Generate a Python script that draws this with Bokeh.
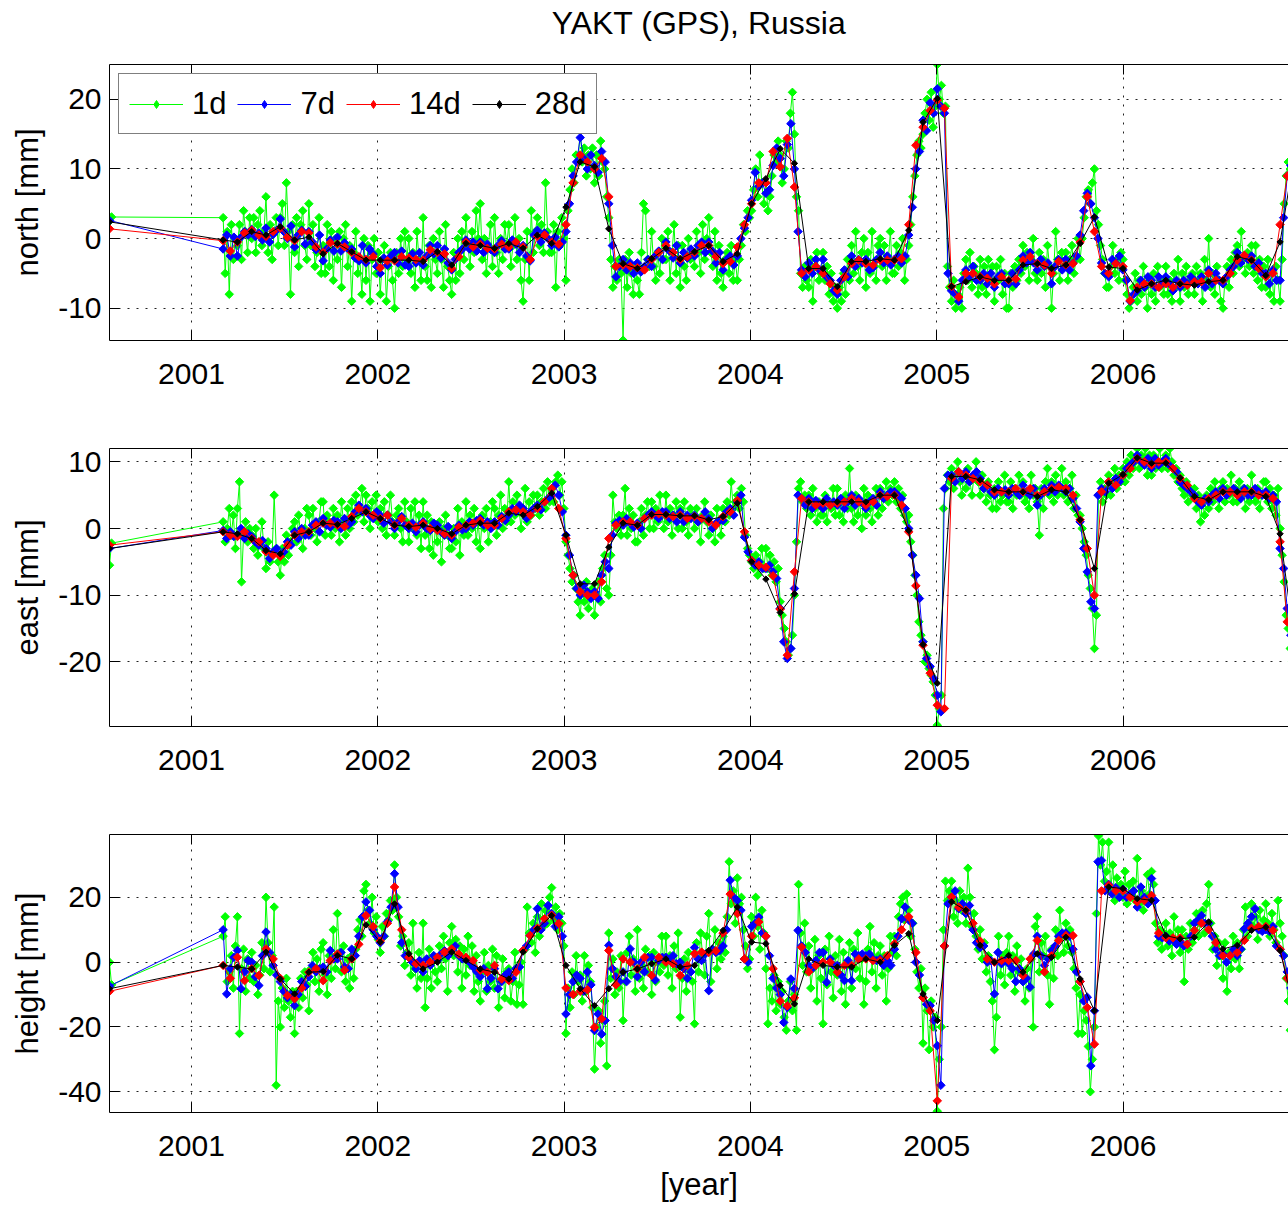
import numpy as np
from bokeh.plotting import figure
from bokeh.models import Range1d, LinearAxis, FixedTicker, Legend, LegendItem
from bokeh.layouts import column
from bokeh.embed import file_html
from bokeh.resources import INLINE

FONT = "Liberation Sans"
FS_TICK = "30px"
FS_LABEL = "31px"
FS_TITLE = "32px"
FS_LEGEND = "31px"
YEARS = [2001, 2002, 2003, 2004, 2005, 2006]
X_START, X_END = 2000.56, 2006.888
T_FIRST = 2000.56          # isolated first epoch
T0 = 2001.17               # start of the continuous record
DPY = 365.25
SPACING = {"1d": 4, "7d": 7, "14d": 14, "28d": 28}   # days between samples inside one 28-day block

# ---------------------------------------------------------------- NORTH
north_start = {"1d": [2.5, 3.1], "7d": [2.6], "14d": [1.4], "28d": [2.4]}
north_28d = [-0.2,-0.5,1.0,0.5,1.7,-0.2,0.2,-2.2,-0.7,-1.9,
 -3.1,-3.1,-3.1,-3.1,-3.3,-1.9,-3.8,-0.7,-1.0,-1.4,
 -0.7,-1.4,0.5,-0.7,4.5,11.0,10.3,1.4,-3.6,-4.3,
 -2.9,-1.4,-2.9,-1.9,-1.0,-3.3,-2.2,5.0,8.6,12.9,
 10.8,-4.3,-4.3,-6.9,-3.3,-3.3,-2.9,-3.1,1.2,16.7,
 20.1,-6.9,-6.2,-5.5,-6.0,-6.0,-3.8,-3.6,-4.3,-3.8,
 -0.7,3.1,-4.1,-4.3,-7.4,-6.5,-6.0,-6.5,-6.7,-6.2,
 -6.0,-2.6,-3.1,-5.3,-0.5,12.0]
north_14d = [[-0.3,-1.8],[-0.5,0.8],[1.2,0.5],[0.3,1.0],[1.5,0.2],[-0.3,1.0],[0.8,-1.2],[-2.0,-0.6],[-0.8,-1.2],[-2.0,-2.6],
 [-3.0,-2.6],[-4.2,-3.2],[-3.2,-2.6],[-2.8,-3.0],[-3.1,-1.6],[-2.0,-2.2],[-4.3,-2.6],[-0.5,-1.2],[-0.8,-1.4],[-1.5,-0.8],
 [-1.2,-0.5],[-1.2,-3.0],[0.3,0.5],[-0.5,-0.8],[2.0,8.0],[12.0,11.0],[10.0,11.5],[6.0,-4.0],[-3.8,-4.0],[-4.2,-4.5],
 [-3.0,-2.0],[-1.0,-2.0],[-3.0,-2.6],[-2.0,-1.0],[-1.0,-2.6],[-3.6,-3.3],[-1.2,2.0],[5.0,8.0],[8.0,12.5],[10.3,14.4],
 [7.4,-5.0],[-4.5,-4.0],[-5.0,-6.5],[-7.4,-5.5],[-3.6,-3.1],[-3.6,-3.8],[-3.1,-3.1],[-3.1,-2.9],[2.0,13.4],[16.0,18.4],
 [19.9,18.7],[-6.9,-8.4],[-5.0,-5.0],[-5.5,-5.7],[-6.5,-5.5],[-6.0,-5.8],[-3.1,-2.6],[-3.6,-3.8],[-5.0,-3.3],[-3.8,-3.6],
 [-0.5,6.0],[1.0,-4.0],[-5.0,-3.6],[-4.0,-8.9],[-7.0,-6.5],[-6.5,-7.0],[-6.5,-7.0],[-6.5,-6.7],[-6.2,-6.2],[-5.0,-6.0],
 [-6.0,-5.0],[-3.1,-2.4],[-3.1,-4.3],[-5.5,-5.0],[2.0,9.0],[13.0,14.0]]
north_7d = [[-1.5,0.5,-2.5,0.2],[-2.5,0.2,1.0,0.5],[1.3,0.3,0.8,-0.2],[1.5,-0.5,0.6,1.2],[2.8,1.0,0.0,1.8],
 [-1.2,0.5,1.2,-0.8],[1.0,-0.5,-1.6,0.5],[-3.2,-1.5,-0.2,-1.8],[0.2,-1.8,-0.6,-1.5],[-1.5,-2.8,-3.2,-1.0],
 [-3.5,-1.5,-2.2,-4.0],[-5.0,-2.8,-3.8,-2.5],[-2.0,-3.5,-1.8,-3.8],[-4.0,-2.2,-3.5,-2.0],[-3.8,-2.5,-1.0,-2.2],
 [-1.0,-2.8,-1.5,-3.5],[-4.5,-3.0,-2.0,-1.5],[-0.2,-1.5,-0.5,-1.8],[-0.5,-2.0,-0.8,-1.6],[-2.0,-1.0,-0.3,-1.5],
 [-1.5,-0.2,-0.8,-2.0],[-1.0,-2.5,-3.2,0.5],[1.2,-0.5,0.8,0.0],[-1.0,0.2,-1.2,-0.5],[1.0,5.0,9.0,11.0],
 [14.5,11.5,10.0,12.0],[10.5,9.5,12.5,11.0],[5.0,-1.0,-5.5,-4.0],[-3.0,-4.5,-3.5,-5.0],[-3.5,-4.8,-4.0,-3.0],
 [-4.0,-2.5,-1.8,-3.0],[-0.5,-1.8,-2.8,-1.0],[-3.5,-2.0,-2.8,-1.5],[-2.5,-1.0,-0.5,-2.0],[-0.5,-1.8,-3.5,-2.0],
 [-4.5,-3.0,-2.5,-3.8],[-2.5,0.0,1.5,3.0],[5.5,9.5,7.5,8.0],[6.5,7.0,10.5,13.0],[11.5,9.0,13.5,16.5],
 [10.0,1.0,-4.5,-5.5],[-3.5,-5.0,-3.0,-4.5],[-3.0,-5.5,-6.0,-7.5],[-8.0,-6.0,-4.5,-5.5],[-2.5,-4.0,-3.0,-3.5],
 [-3.0,-4.5,-4.2,-3.0],[-2.0,-3.5,-2.5,-3.8],[-3.0,-2.5,-3.5,-2.5],[0.5,4.5,10.0,12.5],[17.0,15.5,19.5,18.0],
 [21.5,19.0,18.0,-5.0],[-7.5,-8.0,-9.0,-6.0],[-4.5,-5.5,-4.0,-6.0],[-6.0,-5.0,-6.5,-5.0],[-7.0,-5.5,-5.0,-6.5],
 [-6.5,-5.0,-6.5,-4.5],[-2.5,-3.5,-2.0,-3.5],[-4.5,-3.0,-4.0,-3.5],[-6.5,-4.0,-3.0,-4.5],[-3.0,-4.5,-3.5,-2.5],
 [0.5,4.0,6.5,5.0],[3.0,0.0,-3.5,-5.0],[-5.5,-3.0,-3.5,-2.5],[-4.5,-6.0,-9.0,-8.0],[-7.5,-6.0,-7.0,-5.5],
 [-6.0,-7.0,-5.5,-6.5],[-5.5,-6.5,-7.5,-6.0],[-7.0,-6.0,-6.5,-5.5],[-6.0,-6.5,-5.5,-7.0],[-4.5,-6.5,-5.0,-6.0],
 [-6.5,-5.5,-4.5,-4.0],[-2.0,-3.5,-2.5,-3.0],[-2.5,-4.0,-3.5,-5.0],[-5.0,-6.5,-4.5,-6.0],[-6.0,3.0,9.0,10.5],
 [12.0,13.0,12.5,14.0]]
north_1d = [[3,-5,1,-8,2,-3,0],[-1,2,-3,4,1,-2,3],[0,3,-2,2,4,-1,1],[6,-2,2,-3,1,3,-1],[3,5,-1,8,1,-8,2],
 [-2,3,-4,2,4,-1,-3],[5,-1,2,-4,-2,3,-5],[-1,-5,2,-4,1,-6,0],[-3,1,-7,0,2,-4,-1],[-9,-2,1,-5,-3,-8,0],
 [-6,-1,-9,-3,0,-5,-2],[-8,-3,-1,-9,-4,-2,-6],[-10,-2,-5,0,-4,1,-3],[0,-5,-2,-7,1,-3,-6],[3,-4,-6,-1,-7,0,-3],
 [-5,1,-3,-7,2,-4,-6],[-8,-2,-6,0,-5,1,-3],[3,-1,-4,1,-2,4,0],[5,-3,0,-5,-1,2,-4],[3,-2,-5,0,-3,2,-1],
 [2,-4,-1,3,-3,0,-6],[-9,-3,1,-6,4,-2,1],[3,-1,2,-2,8,1,-2],[-2,2,-7,1,-1,3,0],[-6,4,7,10,8,12,11],
 [16,11,13,9,12,10,13],[8,12,9,14,11,10,6],[3,-3,-7,-4,-6,-3,-5],[-14.6,-3,-7,-2,-5,-8,-4],[-6,-8,-2,5,4,-3,-4],
 [1,-4,-6,-2,-5,0,-3],[-3,1,-6,-2,2,-5,-1],[-7,-1,-4,-6,0,-3,-2],[-4,1,-2,-5,2,-3,0],[3,-2,-4,1,-6,-1,-5],
 [-7,-3,-2,-5,-1,-6,-3],[-6,-3,-1,2,1,4,3],[4,7,10,6,12,8,5],[8,4,6,9,12,11,14],[12,8,10,14,13,18,21],
 [15,6,4,-5,-7,-4,-6],[-7,-3,-9,-4,-2,-6,-5],[-2,-6,-4,-8,-5,-9,-7],[-10,-7,-9,-5,-8,-3,-6],[-1,-5,1,-4,-6,-2,0],
 [-7,-2,-5,1,-4,-6,-1],[0,-4,-1,-6,-3,1,-5],[-5,-1,-4,-2,0,-6,-3],[-1,2,6,9,12,14,13],[15,18,20,17,21,16,19],
 [25,20,22,18,19,-4,-7],[-9,-6,-10,-8,-7,-10,-5],[-3,-6,-2,-7,-4,-5,-8],[-3,-7,-4,-8,-3,-6,-4],[-9,-4,-6,-3,-8,-5,-10],
 [-10,-5,-7,-4,-6,-3,-5],[-1,-4,-2,-6,-3,0,-5],[-6,-2,-5,-3,-7,-1,-4],[-10,-5,1,-3,-6,-2,-4],[-2,-6,-3,-1,-5,-3,0],
 [-3,0,3,6,7,5,8],[10,4,2,-1,-3,-5,-7],[-7,-4,-1,-5,-3,-6,-2],[-3,-6,-8,-10,-9,-7,-5],[-9,-6,-8,-4,-7,-10,-6],
 [-8,-5,-9,-4,-7,-6,-8],[-4,-8,-6,-9,-5,-7,-3],[-9,-5,-7,-4,-8,-6,-5],[-8,-4,-6,-5,-9,-3,-6],[0,-7,-5,-8,-4,-6,-9],
 [-10,-6,-4,-7,-3,-5,-2],[-1,-4,1,-3,-5,-2,-4],[-1,-5,-1,-6,-3,-7,-4],[-7,-3,-8,-5,-9,-4,-6],[-9,-3,5,9,11,10,12],
 [13,11,14,12,15,13,12]]

# ---------------------------------------------------------------- EAST
east_start = {"1d": [-5.5, -2.2], "7d": [-3.0], "14d": [-2.5], "28d": [-3.0]}
east_28d = [-0.5,-0.8,-1.5,-3.3,-3.8,-1.0,-0.5,0.8,0.6,1.5,
 2.5,1.5,0.5,0.3,0.5,0.0,-0.8,0.5,0.8,0.8,
 2.3,2.0,3.3,5.3,-1.0,-8.3,-8.3,-2.8,0.8,0.5,
 2.1,2.1,1.9,1.9,1.3,1.8,3.8,-5.0,-7.6,-12.6,
 -9.8,4.0,4.0,4.0,4.0,4.0,5.0,5.0,-0.3,-17.4,
 -23.2,7.8,7.8,7.3,5.8,5.5,5.5,4.8,5.8,5.5,
 1.3,-6.0,6.8,8.1,10.6,9.8,9.8,7.6,4.8,4.3,
 5.5,5.5,5.5,4.8,-0.8,-17.0]
east_14d = [[-0.5,-1.0],[-1.2,-0.5],[-1.5,-2.0],[-3.5,-4.0],[-4.2,-2.5],[-1.0,-0.5],[-0.5,0.5],[0.8,0.8],[0.5,0.3],[1.8,3.0],
 [2.5,2.0],[1.5,2.0],[0.5,1.5],[0.5,0.2],[0.8,0.0],[-0.3,-0.8],[-1.0,0.2],[0.5,0.8],[1.2,0.5],[0.5,1.5],
 [2.5,2.8],[2.5,2.0],[3.0,4.0],[6.0,3.0],[-1.5,-7.0],[-9.5,-10.0],[-10.0,-8.0],[-1.5,0.5],[1.0,1.0],[0.5,1.5],
 [2.0,2.2],[2.0,1.8],[2.0,1.5],[1.8,1.5],[1.0,0.5],[1.8,2.5],[4.2,-0.5],[-4.8,-5.5],[-5.8,-7.1],[-12.1,-19.0],
 [-6.5,4.5],[4.0,3.5],[3.8,3.5],[3.8,4.0],[4.5,4.0],[3.5,4.0],[5.0,4.8],[5.0,3.5],[-0.5,-8.6],[-17.5,-21.7],
 [-26.5,-27.0],[7.5,8.5],[8.0,7.5],[7.0,6.5],[5.5,5.5],[5.5,6.0],[5.5,6.0],[5.0,5.5],[6.0,6.2],[6.0,5.0],
 [1.3,-3.0],[-10.0,5.5],[7.0,6.5],[8.0,9.0],[10.5,10.0],[9.5,10.0],[10.0,9.0],[7.5,6.5],[4.5,4.0],[4.5,5.0],
 [5.5,5.5],[5.0,5.5],[5.5,5.0],[5.0,4.5],[-2.0,-14.0],[-18.0,-20.0]]
east_7d = [[-0.3,-1.5,-0.5,-1.2],[-1.0,0.0,-1.5,-0.8],[-1.2,-2.0,-2.5,-1.8],[-3.0,-4.5,-3.5,-3.0],[-4.0,-3.5,-2.0,-2.5],
 [-0.5,-1.5,0.0,-1.0],[-1.0,0.5,1.0,-0.5],[1.5,0.5,0.2,1.2],[1.0,0.0,1.5,0.5],[1.0,2.5,3.5,2.5],
 [3.0,2.0,1.5,2.5],[2.0,0.8,2.0,1.0],[0.0,1.0,1.8,0.5],[0.0,0.8,-0.5,0.5],[1.0,0.0,-0.3,0.8],
 [0.5,-0.5,-1.0,0.3],[-1.5,-0.5,0.5,-0.2],[0.0,1.0,0.5,1.2],[1.5,0.5,1.0,0.0],[1.0,0.5,1.8,1.2],
 [2.0,3.0,2.5,3.5],[3.0,1.5,2.5,3.0],[3.5,2.8,4.0,4.5],[5.0,6.5,5.0,2.5],[-1.0,-4.0,-7.0,-9.0],
 [-10.0,-8.5,-9.5,-10.5],[-9.5,-10.5,-7.0,-5.0],[-6.0,-1.0,0.8,1.2],[0.5,1.5,0.8,0.2],[0.8,0.0,1.5,2.0],
 [2.5,2.0,1.5,2.5],[2.5,1.5,2.0,1.0],[2.5,1.0,2.0,1.5],[2.0,1.0,1.5,2.5],[1.5,0.0,0.8,1.2],
 [1.2,2.5,3.0,2.0],[4.0,5.0,-1.3,-3.5],[-4.8,-5.5,-5.0,-6.0],[-6.0,-5.5,-6.5,-7.5],[-12.0,-17.0,-19.5,-18.0],
 [-9.0,5.0,4.5,3.5],[4.5,3.0,4.2,3.5],[3.0,4.5,3.5,4.0],[3.5,4.5,3.0,4.0],[5.0,3.5,4.5,3.8],
 [3.0,4.0,4.5,3.5],[5.5,4.5,5.0,5.5],[5.5,5.0,4.5,3.0],[0.0,-4.0,-7.0,-10.5],[-17.0,-19.5,-20.7,-22.5],
 [-25.0,-27.5,6.0,8.0],[8.0,7.0,8.5,7.5],[8.5,7.0,8.0,8.5],[7.5,6.0,6.5,5.5],[5.0,6.0,5.5,5.8],
 [5.0,6.0,5.5,5.0],[6.5,5.5,5.0,6.0],[3.5,5.0,6.0,5.5],[6.5,5.5,6.5,6.0],[5.5,6.0,4.5,3.0],
 [1.0,-3.0,-6.5,-11.0],[-12.0,5.0,6.0,5.5],[7.0,6.0,7.5,7.0],[8.0,9.0,9.5,10.0],[11.0,10.0,9.5,10.5],
 [9.0,10.5,9.5,10.0],[10.5,9.5,9.0,8.5],[7.0,6.5,6.0,5.5],[5.0,4.0,3.5,4.5],[4.0,5.0,5.5,4.5],
 [6.0,5.0,5.5,6.0],[5.5,4.5,6.0,5.0],[5.0,6.0,5.5,5.0],[5.5,4.5,5.0,4.0],[-3.0,-6.0,-12.0,-16.0],
 [-18.0,-20.0,-21.0,-20.0]]
east_1d = [[1,-2,0,3,-1,2,-3],[3,7,-8,-1,1,-2,0],[-1,-3,0,-4,-2,1,-3],[-6,-2,-5,-4,5,-3,-5],[-7,-3,-5,-1,-4,-2,0],
 [1,-2,2,-1,-3,0,3],[2,-1,3,0,-2,1,4],[4,-1,2,1,-1,3,0],[2,-2,4,1,-1,3,0],[4,1,5,2,3,6,1],
 [5,3,0,4,2,5,1],[3,0,4,-1,2,5,1],[-1,2,3,0,-2,4,1],[-2,3,0,4,-1,2,-3],[4,-1,2,-3,1,-4,0],
 [-2,1,-5,0,2,-1,-3],[-3,0,-2,3,-4,1,-1],[4,-1,2,0,3,-2,1],[-3,2,0,3,-2,1,4],[3,-1,2,5,0,3,1],
 [7,1,4,2,5,3,0],[3,6,1,4,2,5,3],[5,2,4,6,3,7,4],[6,4,7,8,5,7,3],[-2,-4,-6,-8,-7,-9,-11],
 [-13,-9,-11,-8,-12,-10,-9],[-13,-10,-8,-11,-6,-4,-9],[-10,-4,5,1,0,2,-1],[2,6,-1,3,0,2,-2],[-2,1,3,-1,2,4,0],
 [4,0,3,1,5,2,0],[5,1,3,-1,2,4,0],[3,0,4,1,-1,3,2],[0,3,1,-2,2,4,1],[-1,2,0,-2,3,1,-1],
 [3,1,4,2,7,3,4],[5,3,6,4,-1,-3,-4],[-5,-6,-4,-7,-5,-3,-6],[-3,-6,-4,-7,-5,-8,-6],[-11,-13,-15,-17,-19,-18,-16],
 [-10,-2,6,7,4,5,3],[5,2,6,3,1,4,2],[2,5,1,4,3,6,2],[6,2,4,1,5,3,9],[3,1,5,2,4,0,6],
 [2,5,3,1,4,6,2],[6,3,5,7,4,6,5],[7,4,6,3,5,2,1],[2,-2,-4,-7,-10,-14,-16],[-17,-20,-19,-21,-22,-23,-25],
 [-29.5,-27,-25,3,6,8,7],[9,6,8,10,7,5,8],[6,9,7,5,8,10,7],[5,8,6,4,7,5,3],[6,3,7,4,5,8,4],
 [4,7,3,6,5,8,5],[7,4,5,3,8,5,6],[4,-1,6,3,7,9,5],[7,4,8,5,6,9,5],[7,4,6,8,3,5,2],
 [2,0,-2,-4,-7,-9,-12],[-18,-13,5,7,4,6,5],[8,5,7,9,6,8,7],[9,7,10,8,11,9,10],[12,9,11,10,12,8,11],
 [8,11,9,10,12,9,10],[11,9,12,10,8,9,7],[8,6,5,7,4,6,5],[6,3,5,1,4,2,5],[3,6,4,7,5,3,6],
 [7,4,6,5,8,4,6],[4,7,5,6,3,6,4],[8,5,4,6,3,5,7],[7,4,6,3,5,2,6],[0,-4,-8,-13,-15,-18,-20],
 [-20,-22,-21,-23,-22,-20,-21]]

# ---------------------------------------------------------------- HEIGHT
height_start = {"1d": [0.0, -7.0], "7d": [-7.4], "14d": [-9.0], "28d": [-8.2]}
height_28d = [-1.0,-1.5,-2.1,3.1,-5.2,-9.8,-3.1,-2.9,2.1,1.0,
 11.5,6.2,18.0,2.6,-2.1,0.0,3.1,0.5,-2.1,-3.1,
 -5.2,3.1,10.3,14.4,-1.0,-8.2,-13.4,-8.2,-3.1,-2.1,
 -0.5,1.0,-1.5,-1.0,3.6,9.8,17.0,6.2,5.7,-7.2,
 -12.9,1.0,-1.0,-1.5,-1.5,1.0,0.0,5.2,8.8,-9.8,
 -18.0,18.6,16.0,5.2,0.0,2.1,-3.1,2.6,1.5,7.7,
 -5.2,-15.0,23.2,22.7,19.6,19.1,8.2,7.2,7.7,12.4,
 4.1,5.2,9.8,10.8,3.6,-15.0]
height_14d = [[-1.0,-5.0],[1.5,-5.7],[-2.0,-4.1],[4.1,1.0],[-5.0,-10.3],[-11.3,-8.0],[-3.1,-2.0],[-5.7,0.5],[2.5,-2.5],[1.0,5.5],
 [14.4,11.0],[6.5,12.0],[23.2,10.0],[1.5,-0.5],[-1.0,0.0],[1.5,3.1],[4.1,2.5],[1.5,0.5],[-2.5,-3.1],[-1.0,-5.2],
 [-5.7,-3.1],[3.6,8.2],[10.5,13.4],[14.5,11.9],[-8.0,-10.0],[-9.0,-8.5],[-20.1,-17.5],[3.6,-7.0],[1.0,0.0],[-2.1,1.5],
 [-4.1,1.5],[0.0,-0.5],[-4.1,-1.0],[2.6,3.1],[3.0,3.5],[9.0,21.0],[15.0,1.0],[8.0,12.4],[8.0,-2.0],[-12.0,-13.5],
 [-11.0,4.6],[-3.0,-1.0],[0.0,0.0],[-3.1,-1.0],[-1.0,1.0],[1.0,0.5],[0.5,2.0],[5.7,10.0],[14.0,3.0],[-11.0,-15.0],
 [-42.8,5.0],[20.1,17.0],[16.0,12.0],[6.5,1.0],[0.0,0.5],[0.5,0.5],[-4.1,1.0],[6.7,-3.0],[2.0,6.7],[8.2,8.2],
 [-6.0,-14.0],[-25.3,22.0],[23.7,22.0],[22.0,20.0],[18.6,19.0],[20.6,9.0],[7.5,7.5],[7.5,5.5],[9.8,12.0],[10.0,6.0],
 [2.0,2.0],[3.0,6.7],[10.5,11.0],[11.0,9.8],[4.0,-5.0],[-15.0,-18.0]]
height_7d = [[10.0,-9.8,-2.0,1.5],[3.6,-8.2,-3.0,0.5],[0.0,-4.5,-7.2,2.0],[9.3,3.0,-1.0,-4.0],[-6.0,-9.0,-11.0,-10.0],
 [-13.4,-10.0,-6.0,-7.5],[-4.5,-1.0,-3.0,-2.0],[-1.5,-3.0,3.6,1.0],[1.0,3.0,-1.5,-2.0],[4.0,2.0,8.0,14.0],
 [18.6,16.0,10.0,8.0],[6.0,8.0,12.5,17.0],[27.3,17.0,6.0,2.0],[1.5,0.0,-2.0,0.5],[-3.0,1.0,-1.0,2.0],
 [0.5,2.5,3.5,2.0],[3.6,5.0,2.0,1.0],[1.0,0.0,-1.5,-3.0],[-4.5,-2.0,-8.2,-5.0],[-2.0,-8.2,-6.0,-4.0],
 [-3.0,-5.0,-2.0,-1.5],[3.6,5.0,8.2,10.0],[16.5,10.0,12.0,17.5],[15.0,11.0,14.0,8.0],[-16.0,-10.0,-6.0,-4.0],
 [-5.0,-9.0,-3.0,-7.0],[-21.1,-16.0,-22.2,-18.0],[5.2,-2.0,-4.5,-6.0],[-3.0,-6.0,4.1,0.0],[-4.5,0.0,-3.0,1.5],
 [1.5,-5.5,0.5,1.5],[1.5,0.5,2.0,-0.5],[0.0,-2.0,-5.0,-3.0],[4.5,1.0,0.5,2.5],[-8.8,4.0,3.0,3.5],
 [5.0,10.0,25.3,20.0],[19.0,16.0,1.0,0.0],[11.0,12.0,13.9,9.0],[8.0,2.0,-5.0,-8.0],[-10.0,-18.6,-14.0,-5.2],
 [-8.2,9.8,5.0,3.0],[-1.0,-2.0,0.5,3.0],[3.0,-6.2,1.0,-1.0],[-1.0,-4.0,-5.7,0.5],[-5.7,2.5,2.0,2.5],
 [2.0,2.5,1.0,0.5],[1.0,-1.0,0.5,-1.0],[4.0,8.0,13.4,17.0],[13.0,12.0,0.0,-4.0],[-10.8,-13.0,-13.4,-18.0],
 [-25.8,-38.0,5.0,18.0],[20.0,22.0,16.5,18.0],[15.0,17.5,10.0,6.0],[4.5,5.0,0.0,0.5],[-9.8,3.0,-0.5,0.5],
 [-0.5,-2.0,-6.0,-2.0],[-6.0,-5.0,-7.7,2.5],[8.0,2.0,-1.0,1.0],[3.5,5.0,8.0,9.0],[9.0,8.0,4.0,-3.0],
 [-6.0,-12.0,-10.8,-32.0],[-15.0,31.0,31.4,22.0],[24.0,21.0,23.0,20.0],[22.5,20.0,21.0,22.0],[17.0,23.2,20.0,18.0],
 [25.8,19.0,8.0,7.5],[8.0,6.5,7.0,5.5],[6.5,5.0,5.5,8.0],[12.0,13.0,14.4,12.0],[12.0,8.0,4.0,2.0],
 [2.5,0.0,2.0,4.0],[2.0,4.0,10.3,12.0],[14.0,16.5,10.0,9.5],[10.0,9.5,11.0,5.0],[4.0,2.0,-3.0,-8.0],
 [-14.0,-16.0,-18.0,-17.0]]
height_1d = [[8,14,-6,-3,2,-8,5],[14,-22,-2,4,-9,1,-5],[3,-6,-1,-10,-4,6,-2],[20,6,-3,2,17,-38,-12],[-20,-8,-14,-5,-12,-17,-9],
 [-22,-9,-14,-5,-11,-3,-7],[-15,-2,3,-6,1,-9,4],[6,-4,-10,2,-5,10,-2],[15,3,-3,5,-6,1,-8],[2,-5,4,10,13,8,22],
 [24,16,12,20,9,14,7],[3,11,8,15,13,19,16],[30,20,14,5,8,-1,3],[6,-4,12,-2,-8,3,-5],[12,-14,-5,4,-8,2,-3],
 [-6,5,-2,8,1,-9,6],[11,2,7,-3,5,-8,4],[-4,8,-1,5,-9,2,-6],[-12,-3,3,-9,-1,-6,4],[-8,2,-14,-6,1,-11,-3],
 [-2,-12,-6,3,-13,-7,0],[-13,4,17,9,6,12,3],[14,8,18,11,16,12,20],[23,13,17,10,15,12,5],[-22,-8,-14,-3,-10,2,-6],
 [-4,-12,2,-9,-1,-6,-14],[-33,-20,-15,-25,-18,-12,-32],[9,-5,1,-10,-3,-8,2],[-18,-6,3,8,-4,1,-9],[10,-5,-1,-8,4,-3,2],
 [-10,3,-6,0,-3,8,-1],[8,-4,2,-8,5,-2,9],[-17,-5,1,-9,3,-3,-6],[-19,6,-3,9,2,-4,8],[15,-6,4,10,-2,6,1],
 [8,3,14,31,18,22,12],[26,18,20,10,5,-2,1],[14,8,20,11,4,16,9],[-2,-19,-8,-12,-4,-15,-6],[-13,-9,-17,-21,-12,-6,-15],
 [-10,-21,24,9,-1,12,-3],[5,-8,-2,7,-12,2,-5],[-19,4,-7,8,-3,-11,2],[-4,7,-9,3,-13,-1,6],[-8,4,-2,9,-5,1,-13],
 [-6,4,11,-3,6,-8,2],[5,-4,2,-12,-2,8,3],[8,2,14,18,20,13,21],[16,8,12,4,-3,-8,-2],[-25,-8,-15,-27,-12,-20,-17],
 [-46,-30,-20,10,25,19,22],[25,14,19,12,22,16,20],[12,29,20,11,15,8,4],[10,1,6,-3,2,-6,-12],[-27,-17,8,-4,2,-7,3],
 [8,-4,2,-9,5,-3,1],[-6,-12,-2,-8,1,-20,11],[14,-3,6,2,8,-4,-13],[4,-5,10,2,16,8,3],[12,5,10,3,-2,-8,-22],
 [-10,-22,-15,-18,-26,-40,-30],[-20,15,39,30,37,25,28],[37,22,30,19,26,21,24],[20,28,18,24,21,25,19],[32,18,22,16,20,27,21],
 [28,24,12,6,10,4,9],[12,5,9,2,14,6,10],[3,10,-6,8,4,12,6],[10,15,8,12,16,9,18],[24,12,4,8,-1,6,2],
 [-5,6,-9,3,-2,8,1],[6,-2,4,10,17,8,12],[18,11,14,7,16,10,13],[18,12,8,15,10,6,19],[12,8,2,-5,-12,-21,-20],
 [-20,-18,-22,-19,-21,-17,-20]]

PANELS = [
    dict(ylabel="north [mm]", yr=(-14.64, 25.0), ticks=[-10, 0, 10, 20], start=north_start,
         series={"1d": north_1d, "7d": north_7d, "14d": north_14d, "28d": north_28d}),
    dict(ylabel="east [mm]", yr=(-29.7, 12.0), ticks=[-20, -10, 0, 10], start=east_start,
         series={"1d": east_1d, "7d": east_7d, "14d": east_14d, "28d": east_28d}),
    dict(ylabel="height [mm]", yr=(-46.4, 39.4), ticks=[-40, -20, 0, 20], start=height_start,
         series={"1d": height_1d, "7d": height_7d, "14d": height_14d, "28d": height_28d}),
]
COLORS = {"1d": "#00ff00", "7d": "#0000ff", "14d": "#ff0000", "28d": "#000000"}
MSIZE = {"1d": 6, "7d": 6, "14d": 6, "28d": 4.5}
LEGEND_MSIZE = {"1d": 10, "7d": 10, "14d": 10, "28d": 7}
ORDER = ["1d", "7d", "14d", "28d"]
DIAMOND_ANGLE = 0.7853981634   # square turned 45 degrees -> even diamond


def series_xy(start_vals, blocks, spacing):
    xs = [T_FIRST + 4 * i / DPY for i in range(len(start_vals))]
    ys = list(start_vals)
    for k, blk in enumerate(blocks):
        vals = blk if isinstance(blk, (list, tuple)) else [blk]
        for m, v in enumerate(vals):
            xs.append(T0 + (28 * k + spacing * m) / DPY)
            ys.append(v)
    return np.array(xs), np.array(ys, dtype=float)


def style_axis(ax):
    ax.axis_line_color = "black"
    ax.axis_line_width = 1
    ax.major_tick_line_color = "black"
    ax.major_tick_in = 10
    ax.major_tick_out = 0
    ax.minor_tick_line_color = None
    ax.major_label_text_font = FONT
    ax.major_label_text_font_size = FS_TICK
    ax.major_label_text_color = "black"


def make_panel(cfg, height, top, bottom, title=None, xlabel=None, legend=False):
    p = figure(width=1288, height=height, x_range=Range1d(X_START, X_END),
               y_range=Range1d(*cfg["yr"]), output_backend="svg", toolbar_location=None,
               tools="", min_border_left=109, min_border_right=0,
               min_border_top=top, min_border_bottom=bottom)
    p.outline_line_color = None
    p.background_fill_color = "white"
    p.border_fill_color = "white"
    p.xaxis.ticker = FixedTicker(ticks=YEARS)
    p.yaxis.ticker = FixedTicker(ticks=cfg["ticks"])
    for ax in list(p.xaxis) + list(p.yaxis):
        style_axis(ax)
    p.xaxis.major_label_standoff = 23
    p.yaxis.major_label_standoff = 8
    p.yaxis.major_label_overrides = {t: str(t) for t in cfg["ticks"]}
    p.yaxis.axis_label = cfg["ylabel"]
    p.yaxis.axis_label_text_font = FONT
    p.yaxis.axis_label_text_font_size = FS_LABEL
    p.yaxis.axis_label_text_font_style = "normal"
    p.yaxis.axis_label_text_color = "black"
    p.yaxis.axis_label_standoff = 10
    if xlabel:
        p.xaxis.axis_label = xlabel
        p.xaxis.axis_label_text_font = FONT
        p.xaxis.axis_label_text_font_size = FS_LABEL
        p.xaxis.axis_label_text_font_style = "normal"
        p.xaxis.axis_label_text_color = "black"
        p.xaxis.axis_label_standoff = 8
    # top frame edge with inward ticks; for the first panel its label carries the title
    top_ax = LinearAxis(ticker=FixedTicker(ticks=YEARS))
    style_axis(top_ax)
    top_ax.major_label_overrides = {y: "" for y in YEARS}
    top_ax.major_label_text_font_size = "1px"
    top_ax.major_label_standoff = 0
    if title:
        top_ax.axis_label = title
        top_ax.axis_label_text_font = FONT
        top_ax.axis_label_text_font_size = FS_TITLE
        top_ax.axis_label_text_font_style = "normal"
        top_ax.axis_label_text_color = "black"
        top_ax.axis_label_standoff = 24
    p.add_layout(top_ax, "above")
    for g in list(p.xgrid) + list(p.ygrid):
        g.grid_line_color = "#222222"
        g.grid_line_dash = "2 7"
        g.grid_line_width = 1
    p.xgrid.ticker = FixedTicker(ticks=YEARS)
    p.ygrid.ticker = FixedTicker(ticks=cfg["ticks"])

    items = []
    for key in ORDER:
        x, y = series_xy(cfg["start"][key], cfg["series"][key], SPACING[key])
        ln = p.line(x, y, line_color=COLORS[key], line_width=1)
        p.scatter(x, y, marker="square", angle=DIAMOND_ANGLE, size=MSIZE[key],
                  fill_color=COLORS[key], line_color=COLORS[key])
        # a point with no position: only supplies the diamond sample drawn in the legend
        key_glyph = p.scatter([np.nan], [np.nan], marker="diamond", size=LEGEND_MSIZE[key],
                              fill_color=COLORS[key], line_color=COLORS[key])
        items.append(LegendItem(label=key, renderers=[ln, key_glyph]))
    if legend:
        lg = Legend(items=items, location="top_left", orientation="horizontal",
                    glyph_width=54, glyph_height=20, label_standoff=9, spacing=11,
                    padding=10, margin=9, label_height=39,
                    label_text_font=FONT, label_text_font_size=FS_LEGEND,
                    label_text_color="black",
                    border_line_color="black", border_line_width=1,
                    background_fill_color="white", background_fill_alpha=1.0)
        p.add_layout(lg)
    return p


p1 = make_panel(PANELS[0], 400, 64, 60, title="YAKT (GPS), Russia", legend=True)
p2 = make_panel(PANELS[1], 386, 48, 60)
p3 = make_panel(PANELS[2], 419, 48, 93, xlabel="[year]")

layout = column(p1, p2, p3, spacing=0)
open("out.html", "w").write(file_html(layout, INLINE))
